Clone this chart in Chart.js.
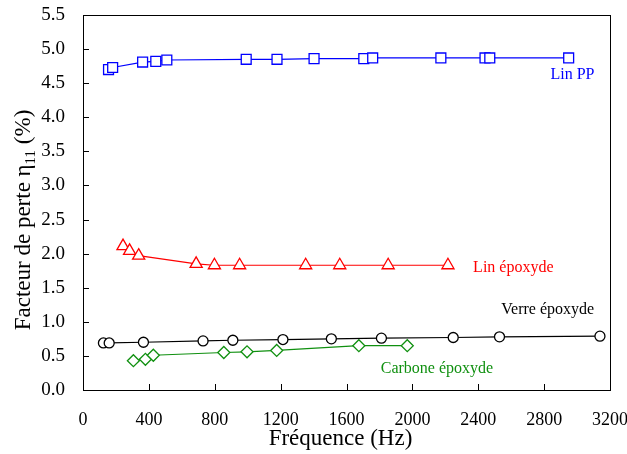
<!DOCTYPE html>
<html>
<head>
<meta charset="utf-8">
<script src="https://cdn.jsdelivr.net/npm/chart.js@4"></script>
<style>
  html, body { margin: 0; padding: 0; background: #fff; }
  #wrap { width: 627px; height: 454px; }
</style>
</head>
<body>
<div id="wrap"><canvas id="lossChart" width="627" height="454"></canvas></div>
<script>
// Values: frequency (Hz) and loss factor eta11 (%)
const linPPHz = [155, 180, 362, 442, 509, 991, 1178, 1403, 1705, 1759, 2173, 2441, 2470, 2949];
const linPPEta = [4.70, 4.73, 4.81, 4.82, 4.84, 4.85, 4.85, 4.86, 4.86, 4.87, 4.87, 4.87, 4.87, 4.87];

const linEpoHz = [243, 283, 338, 687, 798, 951, 1352, 1559, 1853, 2216];
const linEpoEta = [2.11, 2.04, 1.97, 1.85, 1.83, 1.83, 1.83, 1.83, 1.83, 1.83];

const verreHz = [124, 159, 367, 729, 910, 1214, 1508, 1812, 2248, 2529, 3139];
const verreEta = [0.69, 0.69, 0.70, 0.72, 0.73, 0.74, 0.75, 0.76, 0.77, 0.78, 0.79];

const carboneHz = [306, 379, 427, 855, 996, 1176, 1675, 1969];
const carboneEta = [0.43, 0.45, 0.51, 0.55, 0.56, 0.58, 0.65, 0.65];

const xTicks = [0, 400, 800, 1200, 1600, 2000, 2400, 2800, 3200];
const yTicks = [0.0, 0.5, 1.0, 1.5, 2.0, 2.5, 3.0, 3.5, 4.0, 4.5, 5.0, 5.5];

const serif = "'Liberation Serif', 'Times New Roman', serif";
const blue = '#0000ff';
const red = '#ff0000';
const black = '#000000';
const green = '#109010';

// in-plot series labels, placed in data coordinates
const seriesLabels = [
  { text: 'Lin PP', hz: 2972, eta: 4.63, color: blue },
  { text: 'Lin époxyde', hz: 2613, eta: 1.79, color: red },
  { text: 'Verre époxyde', hz: 2822, eta: 1.17, color: black },
  { text: 'Carbone époxyde', hz: 2149, eta: 0.31, color: green },
];

const toPoints = (xs, ys) => xs.map((x, i) => ({ x: x, y: ys[i] }));

function series(label, xs, ys, color, style, radius) {
  return {
    label: label,
    data: toPoints(xs, ys),
    showLine: true,
    borderColor: color,
    borderWidth: 1.2,
    backgroundColor: '#ffffff',
    pointStyle: style,
    pointRadius: radius,
    pointBorderColor: color,
    pointBorderWidth: 1.3,
    pointBackgroundColor: '#ffffff',
    tension: 0,
  };
}

// frame, inward tick marks, axis titles and series labels
const decorations = {
  id: 'decorations',
  afterDraw(chart) {
    const { ctx, chartArea: a, scales } = chart;
    const x = scales.x, y = scales.y;
    ctx.save();
    ctx.strokeStyle = '#000';
    ctx.lineWidth = 1;
    ctx.strokeRect(Math.round(a.left) + 0.5, Math.round(a.top) + 0.5,
      Math.round(a.right - a.left), Math.round(a.bottom - a.top));

    ctx.beginPath();
    xTicks.forEach((v) => {
      const px = Math.round(x.getPixelForValue(v)) + 0.5;
      ctx.moveTo(px, a.bottom);
      ctx.lineTo(px, a.bottom - 6);
    });
    yTicks.forEach((v) => {
      const py = Math.round(y.getPixelForValue(v)) + 0.5;
      ctx.moveTo(a.left, py);
      ctx.lineTo(a.left + 6, py);
    });
    ctx.stroke();

    // x title
    ctx.fillStyle = '#000';
    ctx.font = '23px ' + serif;
    ctx.textAlign = 'center';
    ctx.textBaseline = 'alphabetic';
    ctx.fillText('Fréquence (Hz)', (a.left + a.right) / 2 - 6, 445);

    // y title with subscript
    ctx.save();
    ctx.translate(30, 220);
    ctx.rotate(-Math.PI / 2);
    const main = 'Facteur de perte η';
    const sub = '11';
    const tail = ' (%)';
    ctx.font = '23px ' + serif;
    const wMain = ctx.measureText(main).width;
    const wTail = ctx.measureText(tail).width;
    ctx.font = '15px ' + serif;
    const wSub = ctx.measureText(sub).width;
    let cx = -(wMain + wSub + wTail) / 2;
    ctx.textAlign = 'left';
    ctx.font = '23px ' + serif;
    ctx.fillText(main, cx, 0);
    cx += wMain;
    ctx.font = '15px ' + serif;
    ctx.fillText(sub, cx, 5);
    cx += wSub;
    ctx.font = '23px ' + serif;
    ctx.fillText(tail, cx, 0);
    ctx.restore();

    // series labels
    ctx.font = '16px ' + serif;
    ctx.textAlign = 'center';
    ctx.textBaseline = 'middle';
    seriesLabels.forEach((l) => {
      ctx.fillStyle = l.color;
      ctx.fillText(l.text, x.getPixelForValue(l.hz), y.getPixelForValue(l.eta));
    });
    ctx.restore();
  },
};

new Chart(document.getElementById('lossChart'), {
  type: 'scatter',
  data: {
    datasets: [
      series('Lin PP', linPPHz, linPPEta, blue, 'rect', 7),
      series('Lin époxyde', linEpoHz, linEpoEta, red, 'triangle', 7),
      series('Verre époxyde', verreHz, verreEta, black, 'circle', 5),
      series('Carbone époxyde', carboneHz, carboneEta, green, 'rectRot', 6),
    ],
  },
  options: {
    responsive: false,
    animation: false,
    layout: { padding: { left: 0, right: 17, top: 15, bottom: 0 } },
    plugins: {
      legend: { display: false },
      tooltip: { enabled: false },
    },
    scales: {
      x: {
        type: 'linear',
        min: 0,
        max: 3200,
        afterBuildTicks: (scale) => { scale.ticks = xTicks.map((v) => ({ value: v })); },
        afterFit: (scale) => {
          scale.height = 64;
          scale.paddingLeft = 0;
          scale.paddingRight = 0;
        },
        grid: { display: false },
        border: { display: false },
        ticks: {
          color: '#000',
          font: { family: serif, size: 18 },
          padding: 11,
          maxRotation: 0,
          callback: (v) => String(v),
        },
      },
      y: {
        type: 'linear',
        min: 0,
        max: 5.5,
        afterBuildTicks: (scale) => { scale.ticks = yTicks.map((v) => ({ value: v })); },
        afterFit: (scale) => {
          scale.width = 83;
          scale.paddingTop = 0;
          scale.paddingBottom = 0;
        },
        grid: { display: false },
        border: { display: false },
        ticks: {
          color: '#000',
          font: { family: serif, size: 19 },
          padding: 10,
          callback: (v) => Number(v).toFixed(1),
        },
      },
    },
  },
  plugins: [decorations],
});
</script>
</body>
</html>
